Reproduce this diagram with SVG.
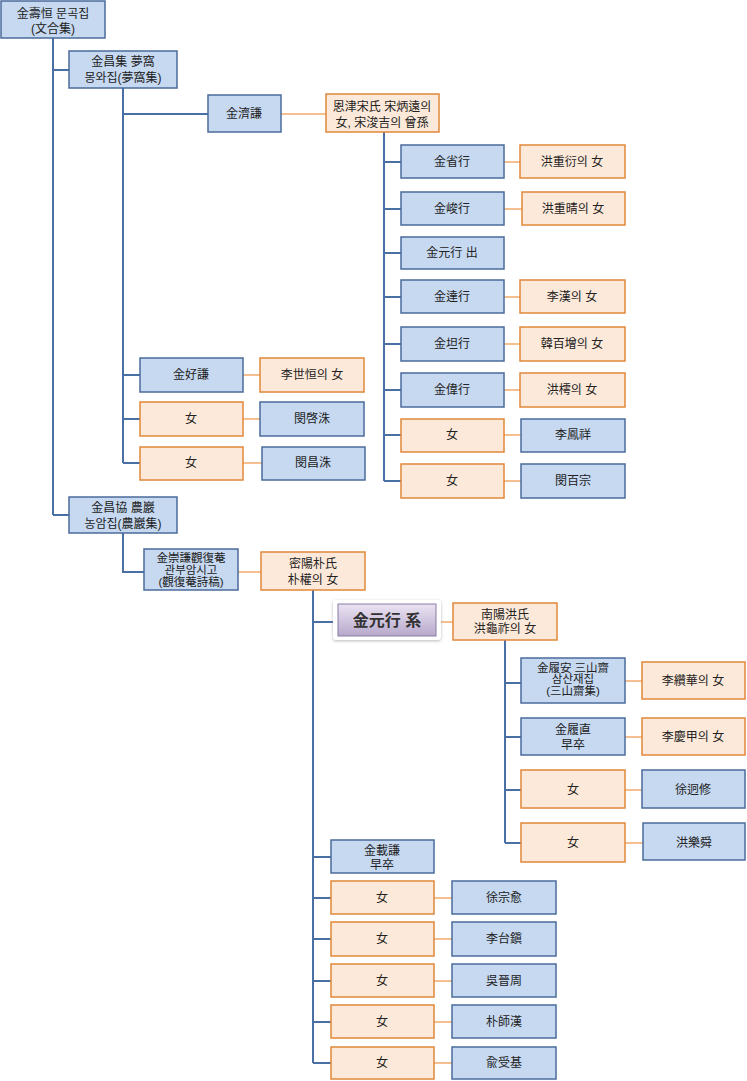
<svg xmlns="http://www.w3.org/2000/svg" width="747" height="1081" viewBox="0 0 747 1081">
<defs>
<style>
.b{fill:#c6d9f1;stroke:#4a6b9b;stroke-width:1.5}
.o{fill:#fde9d9;stroke:#e0883a;stroke-width:1.5}
.t{font-family:"Liberation Sans","Noto Sans CJK KR",sans-serif;font-size:12px;fill:#222;text-anchor:middle;dominant-baseline:central}
.s{font-size:11.5px}
.lb{fill:none;stroke:#4a6fa5;stroke-width:2}
.lo{fill:none;stroke:#f5bf90;stroke-width:2}
.title{font-family:"Liberation Sans","Noto Sans CJK KR",sans-serif;font-size:16px;font-weight:bold;fill:#333;text-anchor:middle;dominant-baseline:central}
</style>
<linearGradient id="pg" x1="0" y1="0" x2="0" y2="1">
<stop offset="0" stop-color="#ebe4f3"/>
<stop offset="1" stop-color="#b7a8cb"/>
</linearGradient>
<filter id="glow" x="-20%" y="-30%" width="140%" height="160%">
<feDropShadow dx="0" dy="1" stdDeviation="1.5" flood-color="#888" flood-opacity="0.6"/>
</filter>
</defs>

<g id="connectors">
<path class="lb" d="M53 38V515M53 70H69M53 515H69"/>
<path class="lb" d="M123 88V463M123 114H208M123 375H140M123 419H140M123 463H140"/>
<path class="lb" d="M384 132V481M384 162H401M384 209H401M384 253H401M384 297H401M384 344H401M384 390H401M384 435H401M384 481H401"/>
<path class="lb" d="M123 533V572H144"/>
<path class="lb" d="M313 590V1063M313 622H338M313 857H331M313 898H331M313 939H331M313 981H331M313 1022H331M313 1063H331"/>
<path class="lb" d="M505 640V843M505 683H521M505 737H521M505 790H521M505 843H521"/>
<path class="lo" d="M281 114H326M504 162H520M504 209H522M504 297H520M504 344H520M504 390H520M504 435H521M504 481H521"/>
<path class="lo" d="M243 375H260M243 419H260M243 463H262M238 572H261M436 622H453"/>
<path class="lo" d="M625 681H642M625 737H642M625 790H642M625 843H643"/>
<path class="lo" d="M434 898H452M434 939H452M434 981H452M434 1022H452M434 1063H452"/>
</g>

<g id="n1"><rect class="b" x="1" y="1" width="104" height="37"/><text class="t" x="53" y="14">金壽恒 문곡집</text><text class="t" x="53" y="29">(文合集)</text></g>
<g id="n2"><rect class="b" x="69" y="51" width="108" height="37"/><text class="t" x="123" y="62">金昌集 夢窩</text><text class="t" x="123" y="78">몽와집(夢窩集)</text></g>
<g id="n3"><rect class="b" x="208" y="95" width="73" height="37"/><text class="t" x="244" y="114">金濟謙</text></g>
<g id="n4"><rect class="o" x="326" y="94" width="113" height="38"/><text class="t" x="382" y="107">恩津宋氏 宋炳遠의</text><text class="t" x="382" y="123">女, 宋浚吉의 曾孫</text></g>

<g id="n5"><rect class="b" x="401" y="145" width="103" height="33"/><text class="t" x="452" y="162">金省行</text></g>
<g id="n6"><rect class="o" x="520" y="145" width="105" height="33"/><text class="t" x="572" y="162">洪重衍의 女</text></g>
<g id="n7"><rect class="b" x="401" y="192" width="103" height="33"/><text class="t" x="452" y="209">金峻行</text></g>
<g id="n8"><rect class="o" x="522" y="192" width="103" height="33"/><text class="t" x="573" y="209">洪重晴의 女</text></g>
<g id="n9"><rect class="b" x="401" y="237" width="103" height="32"/><text class="t" x="452" y="253">金元行 出</text></g>
<g id="n10"><rect class="b" x="401" y="280" width="103" height="33"/><text class="t" x="452" y="297">金達行</text></g>
<g id="n11"><rect class="o" x="520" y="280" width="105" height="33"/><text class="t" x="572" y="297">李漢의 女</text></g>
<g id="n12"><rect class="b" x="401" y="327" width="103" height="34"/><text class="t" x="452" y="344">金坦行</text></g>
<g id="n13"><rect class="o" x="520" y="327" width="105" height="34"/><text class="t" x="572" y="344">韓百增의 女</text></g>
<g id="n14"><rect class="b" x="401" y="373" width="103" height="34"/><text class="t" x="452" y="390">金偉行</text></g>
<g id="n15"><rect class="o" x="520" y="373" width="105" height="34"/><text class="t" x="572" y="390">洪樗의 女</text></g>
<g id="n16"><rect class="o" x="401" y="419" width="103" height="33"/><text class="t" x="452" y="435">女</text></g>
<g id="n17"><rect class="b" x="521" y="419" width="104" height="33"/><text class="t" x="573" y="435">李鳳祥</text></g>
<g id="n18"><rect class="o" x="401" y="464" width="103" height="34"/><text class="t" x="452" y="481">女</text></g>
<g id="n19"><rect class="b" x="521" y="464" width="104" height="34"/><text class="t" x="573" y="481">閔百宗</text></g>

<g id="n20"><rect class="b" x="140" y="358" width="103" height="34"/><text class="t" x="191" y="375">金好謙</text></g>
<g id="n21"><rect class="o" x="260" y="358" width="104" height="34"/><text class="t" x="312" y="375">李世恒의 女</text></g>
<g id="n22"><rect class="o" x="140" y="402" width="103" height="34"/><text class="t" x="191" y="419">女</text></g>
<g id="n23"><rect class="b" x="260" y="402" width="104" height="34"/><text class="t" x="312" y="419">閔啓洙</text></g>
<g id="n24"><rect class="o" x="140" y="447" width="103" height="33"/><text class="t" x="191" y="463">女</text></g>
<g id="n25"><rect class="b" x="262" y="447" width="103" height="33"/><text class="t" x="313" y="463">閔昌洙</text></g>

<g id="n26"><rect class="b" x="69" y="497" width="108" height="36"/><text class="t" x="123" y="508">金昌協 農巖</text><text class="t" x="123" y="524">농암집(農巖集)</text></g>
<g id="n27"><rect class="b" x="144" y="549" width="94" height="41"/><text class="t s" x="191" y="558">金崇謙觀復菴</text><text class="t s" x="191" y="570">관부암시고</text><text class="t s" x="191" y="582">(觀復菴詩稿)</text></g>
<g id="n28"><rect class="o" x="261" y="552" width="104" height="38"/><text class="t" x="313" y="564">密陽朴氏</text><text class="t" x="313" y="580">朴權의 女</text></g>

<g id="n29"><rect x="333" y="600" width="108" height="40" rx="3" fill="#fff" filter="url(#glow)"/><rect x="338" y="604" width="98" height="32" fill="url(#pg)" stroke="#8a7aa3" stroke-width="1"/><text class="title" x="387" y="620">金元行 系</text></g>
<g id="n30"><rect class="o" x="453" y="603" width="104" height="37"/><text class="t" x="505" y="615">南陽洪氏</text><text class="t" x="505" y="629">洪龜祚의 女</text></g>

<g id="n31"><rect class="b" x="521" y="658" width="104" height="45"/><text class="t s" x="573" y="668">金履安 三山齋</text><text class="t s" x="573" y="679">삼산재집</text><text class="t s" x="573" y="691">(三山齋集)</text></g>
<g id="n32"><rect class="o" x="642" y="662" width="103" height="37"/><text class="t" x="693" y="681">李纘華의 女</text></g>
<g id="n33"><rect class="b" x="521" y="718" width="104" height="37"/><text class="t" x="573" y="730">金履直</text><text class="t" x="573" y="745">早卒</text></g>
<g id="n34"><rect class="o" x="642" y="718" width="103" height="37"/><text class="t" x="693" y="737">李慶甲의 女</text></g>
<g id="n35"><rect class="o" x="521" y="770" width="104" height="38"/><text class="t" x="573" y="790">女</text></g>
<g id="n36"><rect class="b" x="642" y="770" width="103" height="38"/><text class="t" x="693" y="790">徐迥修</text></g>
<g id="n37"><rect class="o" x="521" y="823" width="104" height="39"/><text class="t" x="573" y="843">女</text></g>
<g id="n38"><rect class="b" x="643" y="823" width="102" height="37"/><text class="t" x="694" y="843">洪樂舜</text></g>

<g id="n39"><rect class="b" x="331" y="840" width="103" height="33"/><text class="t" x="382" y="851">金載謙</text><text class="t" x="382" y="865">早卒</text></g>
<g id="n40"><rect class="o" x="331" y="881" width="103" height="33"/><text class="t" x="382" y="898">女</text></g>
<g id="n41"><rect class="b" x="452" y="881" width="104" height="33"/><text class="t" x="504" y="898">徐宗愈</text></g>
<g id="n42"><rect class="o" x="331" y="922" width="103" height="34"/><text class="t" x="382" y="939">女</text></g>
<g id="n43"><rect class="b" x="452" y="922" width="104" height="34"/><text class="t" x="504" y="939">李台鎭</text></g>
<g id="n44"><rect class="o" x="331" y="964" width="103" height="33"/><text class="t" x="382" y="981">女</text></g>
<g id="n45"><rect class="b" x="452" y="964" width="104" height="33"/><text class="t" x="504" y="981">吳晉周</text></g>
<g id="n46"><rect class="o" x="331" y="1005" width="103" height="33"/><text class="t" x="382" y="1022">女</text></g>
<g id="n47"><rect class="b" x="452" y="1005" width="104" height="33"/><text class="t" x="504" y="1022">朴師漢</text></g>
<g id="n48"><rect class="o" x="331" y="1047" width="103" height="32"/><text class="t" x="382" y="1063">女</text></g>
<g id="n49"><rect class="b" x="452" y="1047" width="104" height="32"/><text class="t" x="504" y="1063">兪受基</text></g>
</svg>
